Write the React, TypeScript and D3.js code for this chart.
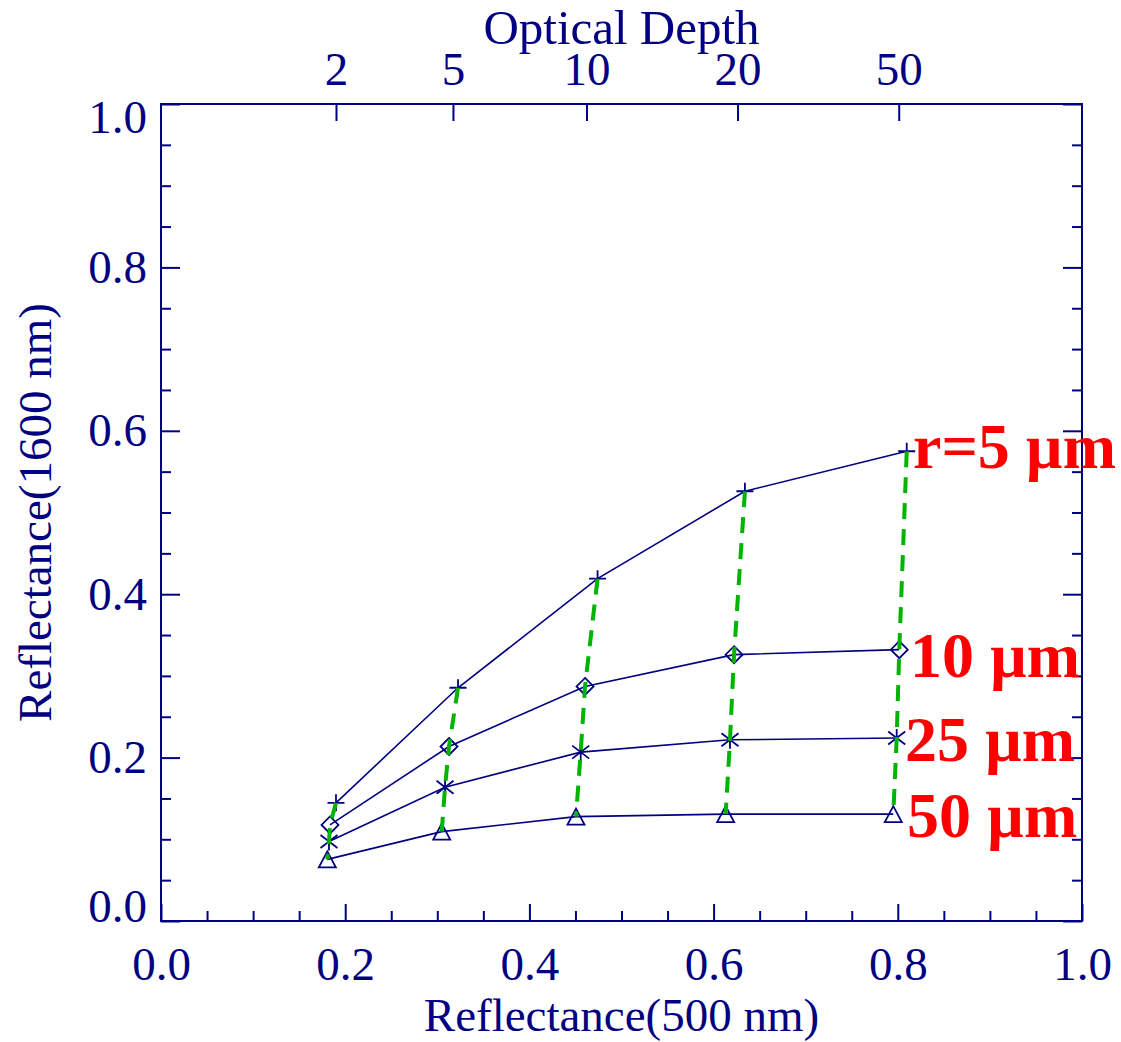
import React, { useEffect, useRef } from "react"
import * as d3 from "d3"

// optical depth labels on the top axis and where they sit in 500 nm reflectance
const opticalDepths = [2, 5, 10, 20, 50]
const depthTickAt = [0.19, 0.317, 0.462, 0.626, 0.801]

// reflectance pairs (500 nm, 1600 nm) for each effective radius
const r5x = [0.19, 0.3225, 0.474, 0.634, 0.8097]
const r5y = [0.1446, 0.2855, 0.419, 0.526, 0.575]
const r10x = [0.1835, 0.3127, 0.4604, 0.6222, 0.8016]
const r10y = [0.1176, 0.2136, 0.2871, 0.326, 0.3321]
const r25x = [0.1824, 0.3084, 0.4557, 0.6178, 0.7988]
const r25y = [0.0974, 0.1638, 0.2067, 0.2218, 0.2239]
const r50x = [0.1806, 0.3048, 0.4506, 0.6131, 0.7951]
const r50y = [0.0754, 0.1094, 0.1278, 0.1308, 0.1308]

const radiusLabels = ["r=5 µm", "10 µm", "25 µm", "50 µm"]
const radiusLabelX = [0.8165, 0.8132, 0.8078, 0.81]
const radiusLabelY = [0.554, 0.299, 0.196, 0.103]

const xTicks = [0, 0.2, 0.4, 0.6, 0.8, 1.0]
const yTicks = [0, 0.2, 0.4, 0.6, 0.8, 1.0]

const NAVY = "#000080"
const GREEN = "#00b400"
const RED = "#ff0000"
const FONT = "'Liberation Serif', 'Times New Roman', serif"

const App = () => {
	const ref = useRef<SVGSVGElement>(null)

	useEffect(() => {
		const width = 1121
		const height = 1042
		const left = 161
		const right = 1082
		const top = 104
		const bottom = 921

		const x = d3.scaleLinear().domain([0, 1]).range([left, right])
		const y = d3.scaleLinear().domain([0, 1]).range([bottom, top])

		const svg = d3
			.select(ref.current)
			.attr("width", width)
			.attr("height", height)
			.attr("viewBox", [0, 0, width, height])

		svg.selectAll("*").remove()

		const minor = d3
			.range(21)
			.map(i => i / 20)
			.filter(v => Math.abs(v * 5 - Math.round(v * 5)) > 1e-6)

		const styleAxis = (g: any) => {
			g.attr("color", NAVY)
				.attr("font-family", FONT)
				.attr("font-size", 47)
			g.select(".domain").remove()
			g.selectAll("line").attr("stroke-width", 2)
		}

		// bottom axis
		svg
			.append("g")
			.attr("transform", `translate(0,${bottom})`)
			.call(
				d3
					.axisBottom(x)
					.tickValues(xTicks)
					.tickSize(-17)
					.tickPadding(26)
					.tickFormat(d3.format(".1f")),
			)
			.call(styleAxis)
		svg
			.append("g")
			.attr("transform", `translate(0,${bottom})`)
			.call(d3.axisBottom(x).tickValues(minor).tickSize(-10).tickFormat(() => ""))
			.call(styleAxis)

		// left axis
		const yAxisG = svg
			.append("g")
			.attr("transform", `translate(${left},0)`)
			.call(
				d3
					.axisLeft(y)
					.tickValues(yTicks)
					.tickSize(-19)
					.tickPadding(14)
					.tickFormat(d3.format(".1f")),
			)
			.call(styleAxis)
		// end labels are kept inside the frame height
		yAxisG
			.selectAll("text")
			.filter((d: any) => d === 0)
			.attr("dy", "0")
		yAxisG
			.selectAll("text")
			.filter((d: any) => d === 1)
			.attr("dy", "0.6em")
		svg
			.append("g")
			.attr("transform", `translate(${left},0)`)
			.call(d3.axisLeft(y).tickValues(minor).tickSize(-10).tickFormat(() => ""))
			.call(styleAxis)

		// right axis, ticks only
		svg
			.append("g")
			.attr("transform", `translate(${right},0)`)
			.call(d3.axisRight(y).tickValues(yTicks).tickSize(-19).tickFormat(() => ""))
			.call(styleAxis)
		svg
			.append("g")
			.attr("transform", `translate(${right},0)`)
			.call(d3.axisRight(y).tickValues(minor).tickSize(-10).tickFormat(() => ""))
			.call(styleAxis)

		// top axis: optical depth
		const topAxis = d3
			.axisTop(x)
			.tickValues(depthTickAt)
			.tickSize(-17)
			.tickPadding(19)
			.tickFormat((_, i) => String(opticalDepths[i]))
		svg
			.append("g")
			.attr("transform", `translate(0,${top})`)
			.call(topAxis)
			.call(styleAxis)

		// frame
		svg
			.append("rect")
			.attr("x", left)
			.attr("y", top)
			.attr("width", right - left)
			.attr("height", bottom - top)
			.attr("fill", "none")
			.attr("stroke", NAVY)
			.attr("stroke-width", 2)

		// titles
		svg
			.append("text")
			.attr("x", (left + right) / 2)
			.attr("y", 44)
			.attr("text-anchor", "middle")
			.attr("font-family", FONT)
			.attr("font-size", 49)
			.attr("fill", NAVY)
			.text("Optical Depth")

		svg
			.append("text")
			.attr("x", (left + right) / 2)
			.attr("y", 1031)
			.attr("text-anchor", "middle")
			.attr("font-family", FONT)
			.attr("font-size", 47)
			.attr("fill", NAVY)
			.text("Reflectance(500 nm)")

		svg
			.append("text")
			.attr("transform", `translate(51,${(top + bottom) / 2}) rotate(-90)`)
			.attr("text-anchor", "middle")
			.attr("font-family", FONT)
			.attr("font-size", 47)
			.attr("fill", NAVY)
			.text("Reflectance(1600 nm)")

		// series
		const series = [
			{ xs: r5x, ys: r5y, marker: "plus" },
			{ xs: r10x, ys: r10y, marker: "diamond" },
			{ xs: r25x, ys: r25y, marker: "asterisk" },
			{ xs: r50x, ys: r50y, marker: "triangle" },
		]

		const line = d3
			.line<[number, number]>()
			.x(d => x(d[0]))
			.y(d => y(d[1]))

		const markerPath = (kind: string) => {
			switch (kind) {
				case "plus":
					return "M-8.5,0H8.5M0,-8.5V8.5"
				case "diamond":
					return "M0,-8.5L8.5,0L0,8.5L-8.5,0Z"
				case "asterisk":
					return "M0,-9V9M-8.5,-6.5L8.5,6.5M-8.5,6.5L8.5,-6.5"
				default:
					return "M0,-8L8.5,8H-8.5Z"
			}
		}

		series.forEach(s => {
			const pts = s.xs.map((v, i) => [v, s.ys[i]] as [number, number])
			svg
				.append("path")
				.attr("d", line(pts))
				.attr("fill", "none")
				.attr("stroke", NAVY)
				.attr("stroke-width", 1.6)

			svg
				.append("g")
				.selectAll("path")
				.data(pts)
				.join("path")
				.attr("transform", d => `translate(${x(d[0])},${y(d[1])})`)
				.attr("d", markerPath(s.marker))
				.attr("fill", "none")
				.attr("stroke", NAVY)
				.attr("stroke-width", 1.8)
		})

		// dashed lines of constant optical depth
		opticalDepths.forEach((_, j) => {
			const pts = series.map(s => [s.xs[j], s.ys[j]] as [number, number])
			svg
				.append("path")
				.attr("d", line(pts))
				.attr("fill", "none")
				.attr("stroke", GREEN)
				.attr("stroke-width", 4)
				.attr("stroke-dasharray", "16,10")
		})

		// radius labels
		svg
			.append("g")
			.selectAll("text")
			.data(radiusLabels)
			.join("text")
			.attr("x", (_, i) => x(radiusLabelX[i]))
			.attr("y", (_, i) => y(radiusLabelY[i]))
			.attr("font-family", FONT)
			.attr("font-weight", "bold")
			.attr("font-size", 64)
			.attr("fill", RED)
			.text(d => d)
	}, [])

	return (
		<svg
			ref={ref}
			style={{ position: "absolute", left: 0, top: 0, background: "#fff" }}
		></svg>
	)
}

export default App
